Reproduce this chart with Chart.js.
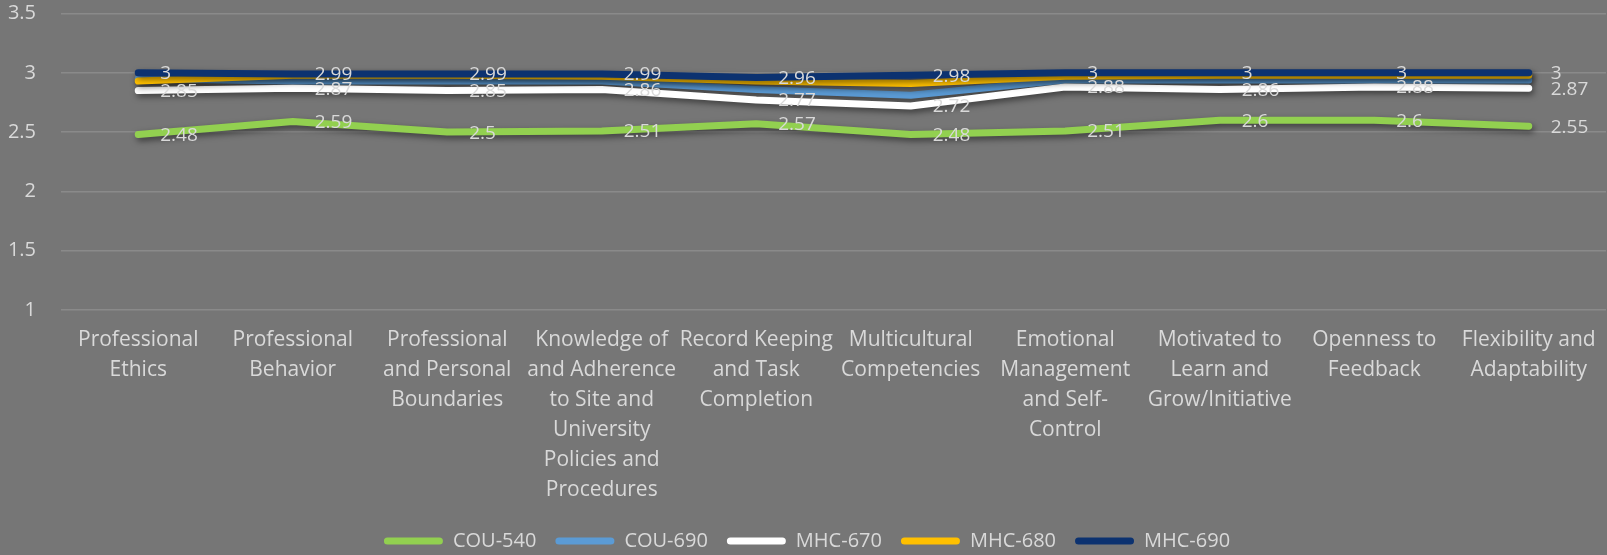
<!DOCTYPE html>
<html>
<head>
<meta charset="utf-8">
<title>Professional Dispositions by Course</title>
<script src="https://cdn.jsdelivr.net/npm/chart.js@4.4.0/dist/chart.umd.min.js"></script>
<style>
    html, body { margin: 0; padding: 0; background: #767676; }
    #skillsChart { display: block; }
</style>
</head>
<body>
<canvas id="skillsChart" width="1607" height="555"></canvas>
<script>
// categories (split into the lines shown under the axis)
const categories = [
    ['Professional', 'Ethics'],
    ['Professional', 'Behavior'],
    ['Professional', 'and Personal', 'Boundaries'],
    ['Knowledge of', 'and Adherence', 'to Site and', 'University', 'Policies and', 'Procedures'],
    ['Record Keeping', 'and Task', 'Completion'],
    ['Multicultural', 'Competencies'],
    ['Emotional', 'Management', 'and Self-', 'Control'],
    ['Motivated to', 'Learn and', 'Grow/Initiative'],
    ['Openness to', 'Feedback'],
    ['Flexibility and', 'Adaptability']
];

const cou540 = [2.48, 2.59, 2.5, 2.51, 2.57, 2.48, 2.51, 2.6, 2.6, 2.55];
const cou690 = [2.95, 2.93, 2.93, 2.93, 2.86, 2.81, 2.94, 2.94, 2.94, 2.94];
const mhc670 = [2.85, 2.87, 2.85, 2.86, 2.77, 2.72, 2.88, 2.86, 2.88, 2.87];
const mhc680 = [2.93, 2.98, 2.98, 2.97, 2.93, 2.91, 2.97, 2.98, 2.98, 2.98];
const mhc690 = [3, 2.99, 2.99, 2.99, 2.96, 2.98, 3, 3, 3, 3];

const yTicks = [1, 1.5, 2, 2.5, 3, 3.5];

const textColor = '#d9d9d9';
const fontFamily = '"Open Sans", "Noto Sans", sans-serif';

// drop shadow under every line
const lineShadow = {
    id: 'lineShadow',
    beforeDatasetDraw(chart) {
        const c = chart.ctx;
        c.save();
        c.shadowColor = 'rgba(0, 0, 0, 0.5)';
        c.shadowBlur = 6;
        c.shadowOffsetX = 2;
        c.shadowOffsetY = 3;
    },
    afterDatasetDraw(chart) {
        chart.ctx.restore();
    }
};

// value labels to the right of each point
const pointLabels = {
    id: 'pointLabels',
    afterDatasetsDraw(chart) {
        const c = chart.ctx;
        c.save();
        c.font = '19px ' + fontFamily;
        c.fillStyle = textColor;
        c.textBaseline = 'middle';
        c.textAlign = 'left';
        chart.data.datasets.forEach((ds, i) => {
            if (!ds.showLabels) return;
            chart.getDatasetMeta(i).data.forEach((pt, j) => {
                c.fillText(String(ds.data[j]), pt.x + 22, pt.y + 1);
            });
        });
        c.restore();
    }
};

function makeLine(label, data, color, order, showLabels) {
    return {
        label: label,
        data: data,
        borderColor: color,
        backgroundColor: color,
        borderWidth: 7,
        borderCapStyle: 'round',
        borderJoinStyle: 'round',
        pointRadius: 0,
        pointHoverRadius: 0,
        tension: 0,
        order: order,
        showLabels: showLabels
    };
}

const ctx = document.getElementById('skillsChart');

new Chart(ctx, {
    type: 'line',
    data: {
        labels: categories,
        datasets: [
            makeLine('COU-540', cou540, '#92d050', 5, true),
            makeLine('COU-690', cou690, '#5b9bd5', 4, false),
            makeLine('MHC-670', mhc670, '#ffffff', 3, true),
            makeLine('MHC-680', mhc680, '#ffc000', 2, false),
            makeLine('MHC-690', mhc690, '#0c3270', 1, true)
        ]
    },
    options: {
        responsive: false,
        animation: false,
        layout: {
            padding: {left: 8, right: 1, top: 0, bottom: 0}
        },
        plugins: {
            tooltip: {enabled: false},
            legend: {
                position: 'bottom',
                maxHeight: 43,
                labels: {
                    color: textColor,
                    font: {family: fontFamily, size: 20},
                    boxWidth: 59,
                    boxHeight: 7,
                    padding: 19,
                    useBorderRadius: true,
                    borderRadius: 3.5,
                    sort: (a, b) => a.datasetIndex - b.datasetIndex,
                    generateLabels: function(chart) {
                        const items = Chart.defaults.plugins.legend.labels.generateLabels(chart);
                        return items.map(it => {
                            it.lineWidth = 0;
                            it.fillStyle = chart.data.datasets[it.datasetIndex].borderColor;
                            return it;
                        });
                    }
                }
            }
        },
        scales: {
            x: {
                offset: true,
                grid: {display: false, drawTicks: false},
                border: {display: false},
                ticks: {
                    color: textColor,
                    font: {family: fontFamily, size: 21, lineHeight: '30px'},
                    padding: 15,
                    maxRotation: 0,
                    autoSkip: false
                },
                afterFit: function(scale) {
                    scale.height = 202;
                    scale.paddingLeft = 0;
                    scale.paddingRight = 0;
                }
            },
            y: {
                min: yTicks[0],
                max: yTicks[yTicks.length - 1],
                afterBuildTicks: function(axis) {
                    axis.ticks = yTicks.map(v => ({value: v}));
                },
                grid: {color: '#8a8a8a', lineWidth: 1.5, drawTicks: false},
                border: {display: false},
                ticks: {
                    color: textColor,
                    font: {family: fontFamily, size: 20},
                    padding: 25,
                    callback: v => String(v)
                },
                afterFit: function(scale) {
                    scale.width = 53;
                    scale.paddingTop = 13.5;
                    scale.paddingBottom = 0;
                }
            }
        }
    },
    plugins: [lineShadow, pointLabels]
});
</script>
</body>
</html>
